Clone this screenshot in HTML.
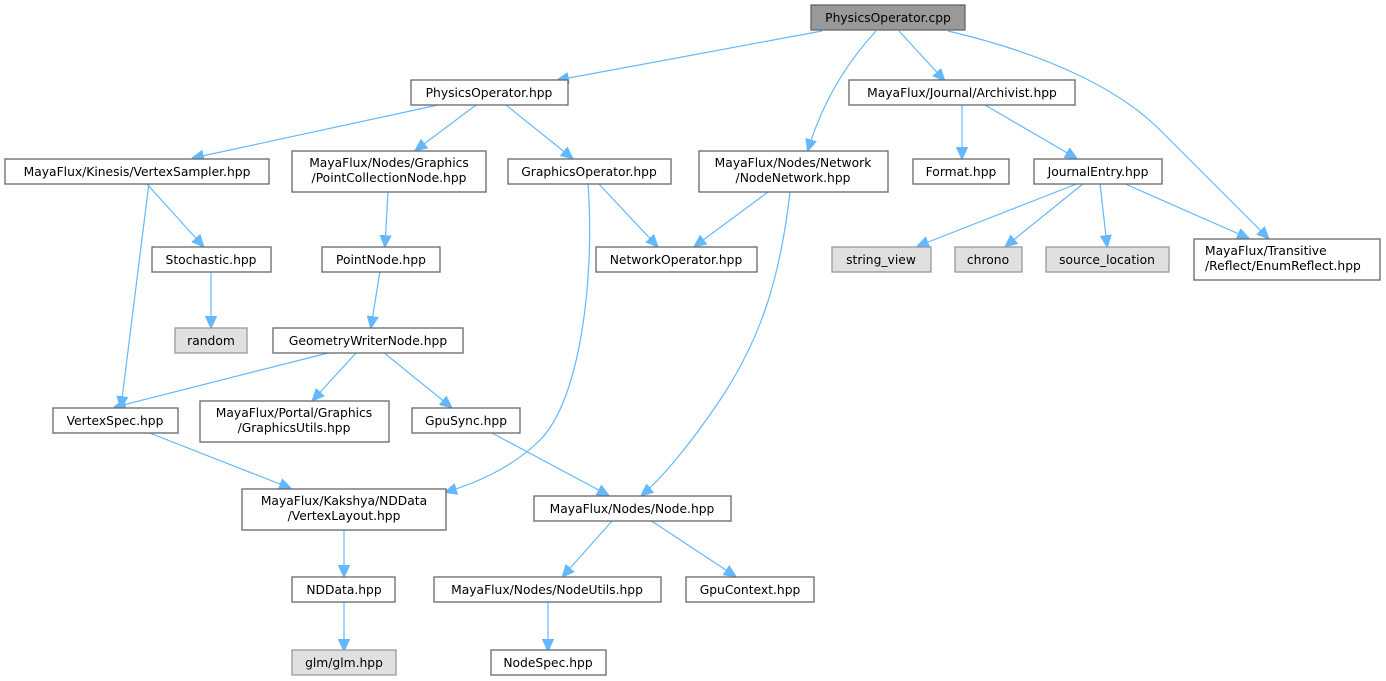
<!DOCTYPE html>
<html><head><meta charset="utf-8"><style>
html,body{margin:0;padding:0;background:#fff;}
svg{display:block;}
text{font-family:"DejaVu Sans","Liberation Sans",sans-serif;font-size:12.3px;fill:#000;}
.n{fill:#fff;stroke:#666;stroke-width:1.3;}
.g{fill:#e0e0e0;stroke:#999;stroke-width:1.3;}
.r{fill:#999;stroke:#666;stroke-width:1.3;}
.e{fill:none;stroke:#63b8ff;stroke-width:1.2;}
</style></head><body>
<svg width="1386" height="681" viewBox="0 0 1386 681" xmlns="http://www.w3.org/2000/svg">
<defs><marker id="a" viewBox="0 0 10 10" refX="9" refY="5" markerWidth="12" markerHeight="12" markerUnits="userSpaceOnUse" orient="auto"><path d="M0,0.5 L10,5 L0,9.5 z" fill="#63b8ff" stroke="#63b8ff"/></marker></defs>
<g marker-end="url(#a)">
<path class="e" d="M822,31 L558,80"/>
<path class="e" d="M876,31 C840,70 820,110 808,150"/>
<path class="e" d="M899,31 L944,80"/>
<path class="e" d="M948,31 C1050,55 1120,90 1160,130 C1210,180 1245,215 1268,238"/>
<path class="e" d="M438,105 L193,158"/>
<path class="e" d="M476,105 L416,150"/>
<path class="e" d="M506,105 L572,158"/>
<path class="e" d="M962,105 L962,158"/>
<path class="e" d="M985,105 L1076,158"/>
<path class="e" d="M149,183 L121,407"/>
<path class="e" d="M146,183 L203,246"/>
<path class="e" d="M388,192 L385,246"/>
<path class="e" d="M588,183 C595,280 580,400 540,440 C510,470 470,485 446,492"/>
<path class="e" d="M598,183 L657,246"/>
<path class="e" d="M768,192 L695,246"/>
<path class="e" d="M790,192 C780,280 760,340 720,400 C690,445 660,480 642,495"/>
<path class="e" d="M1079,183 L918,246"/>
<path class="e" d="M1084,183 L1006,246"/>
<path class="e" d="M1100,183 L1107,246"/>
<path class="e" d="M1123,183 L1248,238"/>
<path class="e" d="M211,271 L211,327"/>
<path class="e" d="M380,271 L371,327"/>
<path class="e" d="M332,352 L115,407"/>
<path class="e" d="M357,352 L313,400"/>
<path class="e" d="M383,352 L451,407"/>
<path class="e" d="M147,432 L290,488"/>
<path class="e" d="M490,432 L608,495"/>
<path class="e" d="M344,530 L344,576"/>
<path class="e" d="M344,601 L344,650"/>
<path class="e" d="M613,520 L563,576"/>
<path class="e" d="M650,520 L735,576"/>
<path class="e" d="M548,601 L548,650"/>
</g>
<g text-anchor="middle">
<rect class="r" x="811" y="5" width="154" height="25"/><text x="888" y="22">PhysicsOperator.cpp</text>
<rect class="n" x="411" y="80" width="157" height="25"/><text x="489" y="97">PhysicsOperator.hpp</text>
<rect class="n" x="849" y="80" width="226" height="25"/><text x="962" y="97">MayaFlux/Journal/Archivist.hpp</text>
<rect class="n" x="5" y="159" width="264" height="25"/><text x="137" y="176">MayaFlux/Kinesis/VertexSampler.hpp</text>
<rect class="n" x="292" y="151" width="194" height="41"/><text x="389" y="167">MayaFlux/Nodes/Graphics</text><text x="389" y="182">/PointCollectionNode.hpp</text>
<rect class="n" x="508" y="159" width="163" height="25"/><text x="589" y="176">GraphicsOperator.hpp</text>
<rect class="n" x="699" y="151" width="189" height="41"/><text x="793" y="167">MayaFlux/Nodes/Network</text><text x="793" y="182">/NodeNetwork.hpp</text>
<rect class="n" x="913" y="159" width="96" height="25"/><text x="961" y="176">Format.hpp</text>
<rect class="n" x="1034" y="159" width="128" height="25"/><text x="1098" y="176">JournalEntry.hpp</text>
<rect class="n" x="152" y="247" width="119" height="25"/><text x="211" y="264">Stochastic.hpp</text>
<rect class="n" x="322" y="247" width="118" height="25"/><text x="381" y="264">PointNode.hpp</text>
<rect class="n" x="596" y="247" width="161" height="25"/><text x="676" y="264">NetworkOperator.hpp</text>
<rect class="g" x="832" y="247" width="99" height="25"/><text x="881" y="264">string_view</text>
<rect class="g" x="955" y="247" width="67" height="25"/><text x="988" y="264">chrono</text>
<rect class="g" x="1046" y="247" width="123" height="25"/><text x="1107" y="264">source_location</text>
<rect class="n" x="1194" y="239" width="186" height="41"/><text x="1205" y="255" text-anchor="start">MayaFlux/Transitive</text><text x="1205" y="270" text-anchor="start">/Reflect/EnumReflect.hpp</text>
<rect class="g" x="175" y="328" width="72" height="25"/><text x="211" y="345">random</text>
<rect class="n" x="273" y="328" width="190" height="25"/><text x="368" y="345">GeometryWriterNode.hpp</text>
<rect class="n" x="53" y="408" width="125" height="25"/><text x="115" y="425">VertexSpec.hpp</text>
<rect class="n" x="200" y="401" width="189" height="41"/><text x="294" y="417">MayaFlux/Portal/Graphics</text><text x="294" y="432">/GraphicsUtils.hpp</text>
<rect class="n" x="412" y="408" width="108" height="25"/><text x="466" y="425">GpuSync.hpp</text>
<rect class="n" x="242" y="489" width="204" height="41"/><text x="344" y="505">MayaFlux/Kakshya/NDData</text><text x="344" y="520">/VertexLayout.hpp</text>
<rect class="n" x="534" y="496" width="197" height="25"/><text x="632" y="513">MayaFlux/Nodes/Node.hpp</text>
<rect class="n" x="292" y="577" width="103" height="25"/><text x="344" y="594">NDData.hpp</text>
<rect class="n" x="434" y="577" width="227" height="25"/><text x="547" y="594">MayaFlux/Nodes/NodeUtils.hpp</text>
<rect class="n" x="686" y="577" width="128" height="25"/><text x="750" y="594">GpuContext.hpp</text>
<rect class="g" x="292" y="650" width="104" height="25"/><text x="344" y="667">glm/glm.hpp</text>
<rect class="n" x="491" y="650" width="115" height="25"/><text x="548" y="667">NodeSpec.hpp</text>
</g>
</svg>
</body></html>
